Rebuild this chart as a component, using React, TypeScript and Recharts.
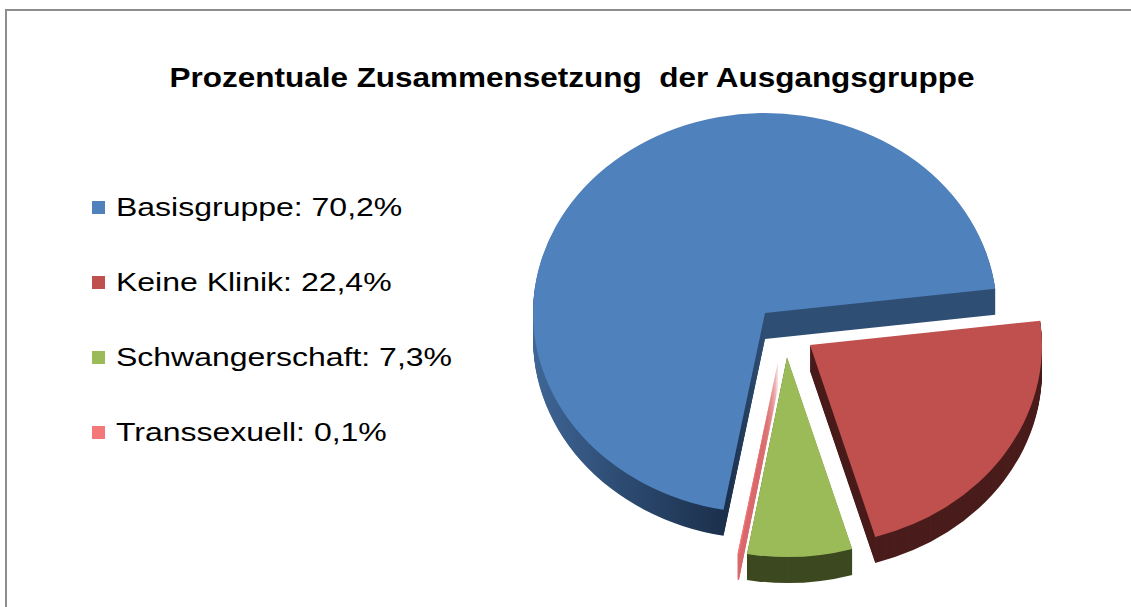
import React from 'react'
import { PieChart, Pie, Sector, Legend } from 'recharts'

// Anteile der Ausgangsgruppe in %
const CATEGORIES = ['Basisgruppe', 'Keine Klinik', 'Schwangerschaft', 'Transsexuell']
const SHARES = [70.2, 22.4, 7.3, 0.1]
const TITLE = 'Prozentuale Zusammensetzung  der Ausgangsgruppe'

const TOP_COLORS = ['#4f81bd', '#c0504d', '#9bbb59', '#f4777a']
const SIDE_FILLS = ['url(#sideBlue)', '#4a1d1c', '#3d4920', '#d96a6d']
// explode offsets (px) for the pulled-out slices
const EXPLODE = [
  [0, 0],
  [45, 32],
  [22, 44],
  [14, 44],
]

const CX = 765
const CY = 313
const RADIUS = 232
const SQUASH = 0.862
const DEPTH = 26
const START = 259.7

const fmt = (v: number) => v.toFixed(1).replace('.', ',') + '%'

const idxOf = (p: any) => {
  const n = p?.name ?? p?.payload?.name
  const i = CATEGORIES.indexOf(n)
  return i < 0 ? p.index ?? 0 : i
}

const tilt = (cx: number, cy: number, dx: number, dy: number) =>
  `translate(${dx} ${dy}) translate(${cx} ${cy}) scale(1 ${SQUASH}) translate(${-cx} ${-cy})`

function SideShape(props: any) {
  const i = idxOf(props)
  const [ex, ey] = EXPLODE[i]
  const layers = []
  for (let k = DEPTH; k >= 1; k--) {
    layers.push(
      <g key={k} transform={tilt(props.cx, props.cy, ex, ey + k)}>
        <Sector
          cx={props.cx}
          cy={props.cy}
          innerRadius={0}
          outerRadius={props.outerRadius}
          startAngle={props.startAngle}
          endAngle={props.endAngle}
          fill={SIDE_FILLS[i]}
          stroke='none'
        />
      </g>
    )
  }
  return <g>{layers}</g>
}

function TopShape(props: any) {
  const i = idxOf(props)
  const [ex, ey] = EXPLODE[i]
  return (
    <g transform={tilt(props.cx, props.cy, ex, ey)}>
      <Sector
        cx={props.cx}
        cy={props.cy}
        innerRadius={0}
        outerRadius={props.outerRadius}
        startAngle={props.startAngle}
        endAngle={props.endAngle}
        fill={TOP_COLORS[i]}
        stroke='none'
      />
    </g>
  )
}

function LegendBox({ payload }: any) {
  const items = (payload || []).filter((e: any) => e.type !== 'none')
  return (
    <div>
      {items.map((e: any) => {
        const i = CATEGORIES.indexOf(e.value)
        return (
          <div
            key={e.value}
            style={{ height: 75, display: 'flex', alignItems: 'center' }}
          >
            <span
              style={{
                width: 13,
                height: 13,
                background: TOP_COLORS[i],
                marginRight: 11,
                display: 'inline-block',
              }}
            />
            <span
              style={{
                fontSize: 26,
                color: '#000',
                whiteSpace: 'nowrap',
                display: 'inline-block',
                transform: 'scaleX(1.23)',
                transformOrigin: 'left center',
              }}
            >
              {e.value}: {fmt(SHARES[i])}
            </span>
          </div>
        )
      })}
    </div>
  )
}

export default function App() {
  const data = CATEGORIES.map((name, i) => ({
    name,
    value: SHARES[i],
    fill: TOP_COLORS[i],
  }))

  return (
    <div
      style={{
        position: 'absolute',
        left: 0,
        top: 0,
        width: 1131,
        height: 607,
        overflow: 'hidden',
        background: '#fff',
        fontFamily: '"Liberation Sans", Arial, sans-serif',
      }}
    >
      <div
        style={{
          position: 'absolute',
          left: 5,
          top: 9,
          width: 1200,
          height: 700,
          borderTop: '2px solid #8d8d8d',
          borderLeft: '2px solid #8d8d8d',
        }}
      />
      <PieChart
        width={1131}
        height={607}
        margin={{ top: 0, right: 0, bottom: 0, left: 0 }}
        style={{ position: 'absolute', left: 0, top: 0 }}
      >
        <defs>
          <linearGradient id='sideBlue' x1='0' y1='0' x2='1' y2='0'>
            <stop offset='0' stopColor='#3f6696' />
            <stop offset='0.2' stopColor='#2c4a70' />
            <stop offset='0.42' stopColor='#1b2f4b' />
            <stop offset='0.5' stopColor='#2f4e74' />
            <stop offset='1' stopColor='#2f4e74' />
          </linearGradient>
        </defs>
        <text
          x={572}
          y={87}
          textAnchor='middle'
          fontSize={28}
          fontWeight='bold'
          fontFamily='"Liberation Sans", Arial, sans-serif'
          textLength={805}
          lengthAdjust='spacingAndGlyphs'
          style={{ whiteSpace: 'pre' }}
          fill='#000'
        >
          {TITLE}
        </text>
        <Pie
          data={data}
          dataKey='value'
          nameKey='name'
          cx={CX}
          cy={CY}
          outerRadius={RADIUS}
          startAngle={START}
          endAngle={START - 360}
          shape={SideShape}
          legendType='none'
          stroke='none'
          isAnimationActive={false}
        />
        <Pie
          data={data}
          dataKey='value'
          nameKey='name'
          cx={CX}
          cy={CY}
          outerRadius={RADIUS}
          startAngle={START}
          endAngle={START - 360}
          shape={TopShape}
          stroke='none'
          isAnimationActive={false}
        />
        <Legend
          layout='vertical'
          align='right'
          verticalAlign='top'
          wrapperStyle={{ left: 92, right: 'auto', top: 170, width: 'auto' }}
          content={<LegendBox />}
        />
      </PieChart>
    </div>
  )
}
